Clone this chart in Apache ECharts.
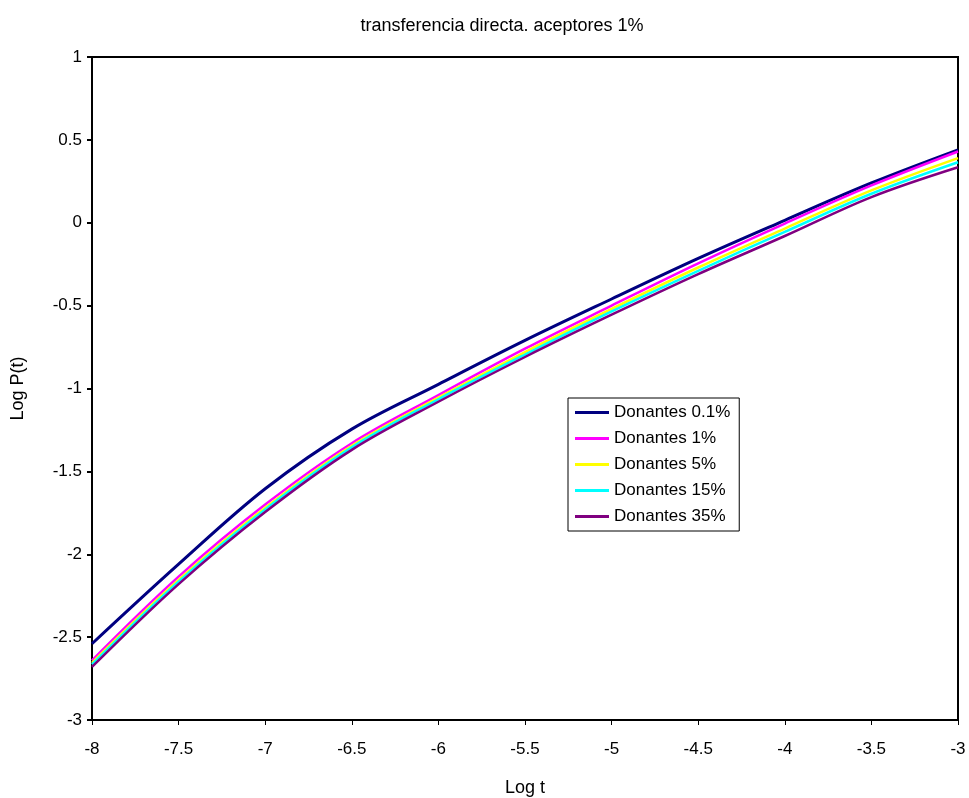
<!DOCTYPE html>
<html>
<head>
<meta charset="utf-8">
<script src="https://cdn.jsdelivr.net/npm/echarts@6/dist/echarts.min.js"></script>
<style>html,body{margin:0;padding:0;background:#fff}#c{width:969px;height:798px}</style>
</head>
<body>
<div id="c"></div>
<script>
var titleText = 'transferencia directa. aceptores 1%';
var xs = [-8, -7.5, -7, -6.5, -6, -5.5, -5, -4.5, -4, -3.5, -3];
var seriesNames = ['Donantes 0.1%', 'Donantes 1%', 'Donantes 5%', 'Donantes 15%', 'Donantes 35%'];
var d01 = [-2.54, -2.06, -1.605, -1.245, -0.975, -0.71, -0.46, -0.215, 0.015, 0.24, 0.44];
var d1  = [-2.64, -2.135, -1.70, -1.33, -1.04, -0.76, -0.50, -0.245, -0.005, 0.225, 0.43];
var d5  = [-2.655, -2.155, -1.72, -1.345, -1.055, -0.78, -0.52, -0.27, -0.035, 0.195, 0.39];
var d15 = [-2.665, -2.165, -1.73, -1.355, -1.065, -0.795, -0.535, -0.29, -0.055, 0.175, 0.365];
var d35 = [-2.68, -2.18, -1.745, -1.37, -1.08, -0.81, -0.555, -0.31, -0.08, 0.155, 0.335];
var colors = ['#000080', '#FF00FF', '#FFFF00', '#00FFFF', '#800080'];
var allData = [d01, d1, d5, d15, d35];

var font = '"Liberation Sans", Arial, sans-serif';
function pairs(arr) { return xs.map(function (x, i) { return [x, arr[i]]; }); }

var chart = echarts.init(document.getElementById('c'), null, {renderer: 'canvas'});
chart.setOption({
  backgroundColor: '#fff',
  animation: false,
  title: {
    text: titleText, left: 497, top: 12, textAlign: 'center',
    textStyle: {fontFamily: font, fontSize: 18, fontWeight: 'normal', color: '#000'}
  },
  grid: {left: 92, right: 11, top: 57, bottom: 78, containLabel: false, outerBoundsMode: 'none',
         show: true, borderColor: '#000', borderWidth: 2, backgroundColor: 'transparent'},
  legend: {
    orient: 'vertical', left: 568, top: 398,
    data: seriesNames.map(function (n) { return {name: n, icon: 'rect'}; }),
    itemWidth: 34, itemHeight: 3, itemGap: 9,
    padding: [6, 9, 6, 7],
    borderColor: '#000', borderWidth: 1, backgroundColor: '#fff',
    textStyle: {fontFamily: font, fontSize: 17, color: '#000', lineHeight: 17}
  },
  xAxis: {
    type: 'value', min: -8, max: -3, interval: 0.5,
    name: 'Log t', nameLocation: 'middle', nameGap: 59,
    nameTextStyle: {fontFamily: font, fontSize: 18, color: '#000'},
    axisLine: {onZero: false, lineStyle: {color: '#000', width: 2}},
    axisTick: {show: true, length: 5, lineStyle: {color: '#000', width: 1}},
    axisLabel: {fontFamily: font, fontSize: 17, color: '#000', margin: 21},
    splitLine: {show: false}
  },
  yAxis: {
    type: 'value', min: -3, max: 1, interval: 0.5,
    name: 'Log P(t)', nameLocation: 'middle', nameGap: 65, nameRotate: 90,
    nameTextStyle: {fontFamily: font, fontSize: 18, color: '#000'},
    axisLine: {onZero: false, lineStyle: {color: '#000', width: 2}},
    axisTick: {show: true, length: 5, lineStyle: {color: '#000', width: 2}},
    axisLabel: {fontFamily: font, fontSize: 17, color: '#000', margin: 10},
    splitLine: {show: false}
  },
  series: allData.map(function (arr, i) {
    return {
      name: seriesNames[i], type: 'line', data: pairs(arr),
      smooth: 0.35, symbol: 'none', showSymbol: false,
      lineStyle: {color: colors[i], width: i === 0 ? 3 : 2.5},
      itemStyle: {color: colors[i]},
      z: 2 + i
    };
  })
});
</script>
</body>
</html>
